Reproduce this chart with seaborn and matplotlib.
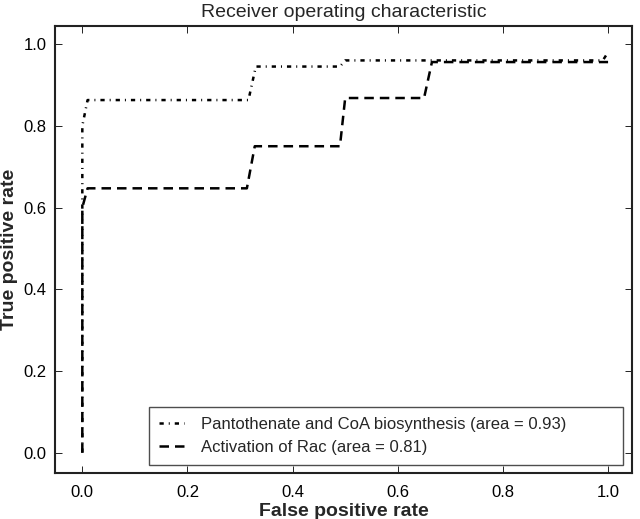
import numpy as np
import matplotlib
matplotlib.use('Agg')
import matplotlib.pyplot as plt
import seaborn as sns

# ROC points
panto_fpr = [0.0, 0.0, 0.01, 0.316, 0.33, 0.49, 0.50, 0.99, 1.0]
panto_tpr = [0.0, 0.80, 0.863, 0.863, 0.945, 0.945, 0.96, 0.96, 0.98]
rac_fpr = [0.0, 0.0, 0.01, 0.313, 0.328, 0.49, 0.50, 0.65, 0.665, 1.0]
rac_tpr = [0.0, 0.60, 0.647, 0.647, 0.75, 0.75, 0.868, 0.868, 0.956, 0.956]

labels = ['Pantothenate and CoA biosynthesis (area = 0.93)',
          'Activation of Rac (area = 0.81)']
ticks = [0.0, 0.2, 0.4, 0.6, 0.8, 1.0]

sns.set_style('ticks')
plt.rcParams['font.family'] = ['Liberation Sans', 'DejaVu Sans']

fig = plt.figure(figsize=(6.4, 5.19), dpi=100)
ax = fig.add_axes([0.0859, 0.0892, 0.902, 0.8613])

sns.lineplot(x=panto_fpr, y=panto_tpr, sort=False, estimator=None, ax=ax,
             color='black', linewidth=1.8, label=labels[0])
sns.lineplot(x=rac_fpr, y=rac_tpr, sort=False, estimator=None, ax=ax,
             color='black', linewidth=1.8, label=labels[1])
ax.lines[0].set_linestyle((0, (1.7, 2.0, 0.4, 2.0)))
ax.lines[1].set_linestyle((0, (3.8, 2.4)))

ax.set_xlim(-0.052, 1.046)
ax.set_ylim(-0.049, 1.045)
ax.set_xticks(ticks)
ax.set_yticks(ticks)
ax.tick_params(direction='in', top=True, right=True, length=5, width=0.6,
               labelsize=12, colors='black')
ax.tick_params(axis='x', pad=9)
ax.tick_params(axis='y', pad=6)
for s in ax.spines.values():
    s.set_linewidth(1.5)
    s.set_color('#222222')

ax.set_title('Receiver operating characteristic', fontsize=14, pad=6)
ax.set_xlabel('False positive rate', fontsize=14, fontweight='bold', labelpad=2)
ax.set_ylabel('True positive rate', fontsize=14, fontweight='bold', labelpad=4)

leg = ax.legend(loc='lower left', mode='expand', fontsize=12, frameon=True,
                fancybox=False, handlelength=1.5, handletextpad=1.0,
                borderpad=0.6, labelspacing=0.5, borderaxespad=0,
                bbox_to_anchor=(0.163, 0.017, 0.821, 0.1))
leg.get_frame().set_edgecolor('#222222')
leg.get_frame().set_linewidth(1.0)

fig.savefig('out.png', dpi=100)
